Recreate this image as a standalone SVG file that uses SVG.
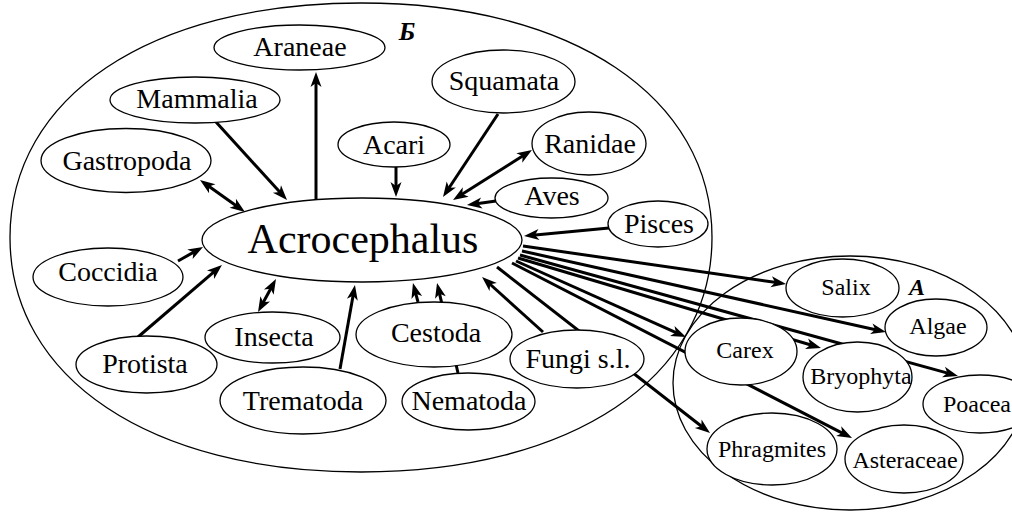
<svg xmlns="http://www.w3.org/2000/svg" width="1012" height="524" viewBox="0 0 1012 524">
<style>
.grp{fill:none;stroke:#000;stroke-width:1.3}
.node ellipse{fill:#fff;stroke:#000;stroke-width:1.3}
.t{font-family:"Liberation Serif","Times New Roman",serif;font-size:28px;fill:#000;text-anchor:middle}
.s{font-size:24px}
.big{font-size:42px}
.lbl{font-family:"Liberation Serif","Times New Roman",serif;font-weight:bold;font-style:italic;fill:#000;text-anchor:middle}
#connectors line{stroke:#000;stroke-width:3;fill:none}
.one{marker-end:url(#ah)}
.two{marker-start:url(#ah);marker-end:url(#ah)}
</style>
<defs>
<marker id="ah" markerUnits="userSpaceOnUse" markerWidth="24" markerHeight="16" viewBox="-16 -8 24 16" refX="-6" refY="0" orient="auto-start-reverse">
<path d="M0,0 L-15,-5.5 L-11,0 L-15,5.5 Z" fill="#000"/>
</marker>
</defs>
<rect width="1012" height="524" fill="#fff"/>
<g id="group-B">
<path class="grp" d="M712,237.5 C712,378.2 571.6,472 361,472 C150.4,472 10,378.2 10,237.5 C10,96.8 150.4,3 361,3 C571.6,3 712,96.8 712,237.5 Z"/>
<text class="lbl" x="407" y="40" font-size="26">Б</text>
</g>
<g id="group-A">
<ellipse class="grp" cx="850" cy="383" rx="177" ry="127"/>
<text class="lbl" x="917" y="295" font-size="24">А</text>
</g>
<g id="connectors">
<line class="one" x1="316" y1="200" x2="316" y2="78"/>
<line class="one" x1="216" y1="122" x2="283" y2="195.6"/>
<line class="two" x1="204.9" y1="183.5" x2="240.1" y2="208.5"/>
<line class="one" x1="178" y1="261" x2="197.8" y2="249.9"/>
<line class="one" x1="138" y1="337" x2="217.4" y2="268.9"/>
<line class="two" x1="260.9" y1="306.7" x2="273.1" y2="284.3"/>
<line class="one" x1="340" y1="369" x2="353.9" y2="290.9"/>
<line class="one" x1="418" y1="302" x2="414.5" y2="288.8"/>
<line class="one" x1="458" y1="373" x2="438.4" y2="288.8"/>
<line class="one" x1="543" y1="332" x2="486.5" y2="281"/>
<line class="one" x1="396" y1="167" x2="396" y2="191"/>
<line class="one" x1="498" y1="114" x2="446.3" y2="192"/>
<line class="two" x1="458.1" y1="196.8" x2="526.9" y2="153.2"/>
<line class="one" x1="496" y1="201" x2="472.9" y2="204.2"/>
<line class="one" x1="609" y1="228" x2="530" y2="235.4"/>
<line class="one" x1="523" y1="246" x2="780.1" y2="283.1"/>
<line class="one" x1="522" y1="251" x2="880.1" y2="330.7"/>
<line class="one" x1="520" y1="255" x2="952.2" y2="374.4"/>
<line class="one" x1="518" y1="258" x2="815.2" y2="346.3"/>
<line class="one" x1="516" y1="261" x2="680.5" y2="334.6"/>
<line class="one" x1="512" y1="263" x2="846.7" y2="435.3"/>
<line class="one" x1="497" y1="267" x2="705.3" y2="429.3"/>
</g>
<g id="Acrocephalus" class="node"><ellipse cx="362" cy="240" rx="160" ry="42"/><text class="t big" x="363" y="253">Acrocephalus</text></g>
<g id="Araneae" class="node"><ellipse cx="299.5" cy="47.5" rx="85.5" ry="22.5"/><text class="t" x="300" y="56">Araneae</text></g>
<g id="Mammalia" class="node"><ellipse cx="195" cy="100" rx="85" ry="23"/><text class="t" x="197" y="108">Mammalia</text></g>
<g id="Gastropoda" class="node"><ellipse cx="126" cy="160.5" rx="85" ry="32"/><text class="t" x="127" y="170">Gastropoda</text></g>
<g id="Coccidia" class="node"><ellipse cx="108" cy="277" rx="75" ry="29"/><text class="t" x="108" y="281">Coccidia</text></g>
<g id="Protista" class="node"><ellipse cx="146.5" cy="364.5" rx="70.5" ry="28.5"/><text class="t" x="145" y="373">Protista</text></g>
<g id="Insecta" class="node"><ellipse cx="272.5" cy="337.5" rx="67.5" ry="25.5"/><text class="t" x="274" y="346">Insecta</text></g>
<g id="Trematoda" class="node"><ellipse cx="303" cy="400.5" rx="83" ry="33.5"/><text class="t" x="303" y="410">Trematoda</text></g>
<g id="Cestoda" class="node"><ellipse cx="434" cy="334.5" rx="78" ry="32.5"/><text class="t" x="436" y="342">Cestoda</text></g>
<g id="Nematoda" class="node"><ellipse cx="468.5" cy="401.5" rx="66.5" ry="28.5"/><text class="t" x="469" y="410">Nematoda</text></g>
<g id="Fungi" class="node"><ellipse cx="577" cy="359" rx="67" ry="29"/><text class="t" x="578" y="368">Fungi s.l.</text></g>
<g id="Acari" class="node"><ellipse cx="394" cy="144.5" rx="56" ry="22.5"/><text class="t" x="394" y="154">Acari</text></g>
<g id="Squamata" class="node"><ellipse cx="503.5" cy="81.5" rx="71.5" ry="31.5"/><text class="t" x="504" y="90">Squamata</text></g>
<g id="Ranidae" class="node"><ellipse cx="589" cy="143.5" rx="57" ry="31.5"/><text class="t" x="590" y="153">Ranidae</text></g>
<g id="Aves" class="node"><ellipse cx="551.5" cy="198" rx="56.5" ry="20"/><text class="t" x="552" y="205">Aves</text></g>
<g id="Pisces" class="node"><ellipse cx="658" cy="224" rx="50" ry="23"/><text class="t" x="659" y="233">Pisces</text></g>
<g id="Salix" class="node"><ellipse cx="842.5" cy="288" rx="56.5" ry="29"/><text class="t s" x="846" y="295">Salix</text></g>
<g id="Algae" class="node"><ellipse cx="936" cy="327.5" rx="51" ry="28.5"/><text class="t s" x="938" y="334">Algae</text></g>
<g id="Carex" class="node"><ellipse cx="741" cy="351.5" rx="56" ry="33.5"/><text class="t s" x="745" y="358">Carex</text></g>
<g id="Bryophyta" class="node"><ellipse cx="857.5" cy="377" rx="54.5" ry="35"/><text class="t s" x="861" y="384">Bryophyta</text></g>
<g id="Poacea" class="node"><ellipse cx="980" cy="404" rx="57" ry="29"/><text class="t s" x="943" y="412" style="text-anchor:start">Poacea</text></g>
<g id="Phragmites" class="node"><ellipse cx="772" cy="449" rx="65" ry="36"/><text class="t s" x="772" y="457">Phragmites</text></g>
<g id="Asteraceae" class="node"><ellipse cx="904" cy="459" rx="59" ry="34"/><text class="t s" x="905" y="468">Asteraceae</text></g>
</svg>
